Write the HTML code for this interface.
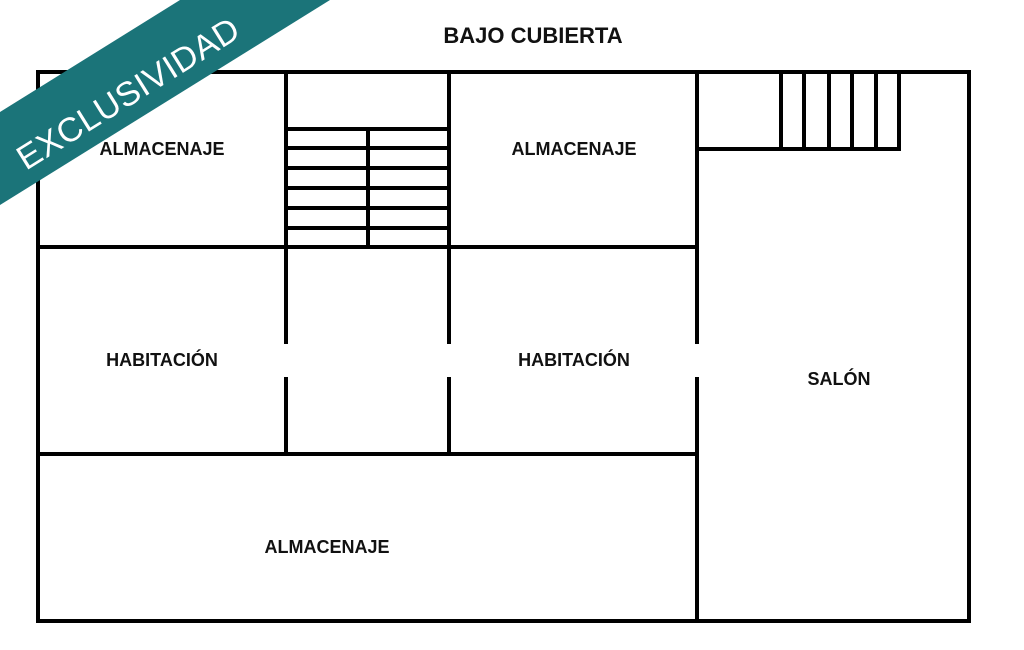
<!DOCTYPE html>
<html><head><meta charset="utf-8"><style>
html,body{margin:0;padding:0;background:#fff;}
svg{display:block}
text{font-family:"Liberation Sans",sans-serif;font-weight:bold;fill:#111;}
</style></head><body>
<svg width="1024" height="650" viewBox="0 0 1024 650">
<g stroke="#000" stroke-width="4" fill="none" stroke-linecap="square">
<rect x="38" y="72" width="931" height="549"/>
<line x1="286" y1="72" x2="286" y2="342"/><line x1="286" y1="379" x2="286" y2="454"/>
<line x1="449" y1="72" x2="449" y2="342"/><line x1="449" y1="379" x2="449" y2="454"/>
<line x1="697" y1="72" x2="697" y2="342"/><line x1="697" y1="379" x2="697" y2="621"/>
<line x1="38" y1="247" x2="697" y2="247"/>
<line x1="38" y1="454" x2="697" y2="454"/>
<line x1="286" y1="129" x2="449" y2="129"/>
<line x1="286" y1="148" x2="449" y2="148"/>
<line x1="286" y1="168" x2="449" y2="168"/>
<line x1="286" y1="188" x2="449" y2="188"/>
<line x1="286" y1="208" x2="449" y2="208"/>
<line x1="286" y1="228" x2="449" y2="228"/>
<line x1="368" y1="129" x2="368" y2="247"/>
<line x1="697" y1="149" x2="899" y2="149"/>
<line x1="781" y1="72" x2="781" y2="149"/>
<line x1="804" y1="72" x2="804" y2="149"/>
<line x1="829" y1="72" x2="829" y2="149"/>
<line x1="852" y1="72" x2="852" y2="149"/>
<line x1="876" y1="72" x2="876" y2="149"/>
<line x1="899" y1="72" x2="899" y2="149"/>
</g>
<text x="533" y="43" font-size="22" text-anchor="middle">BAJO CUBIERTA</text>
<g font-size="18" text-anchor="middle">
<text x="162" y="155">ALMACENAJE</text>
<text x="574" y="155">ALMACENAJE</text>
<text x="327" y="553">ALMACENAJE</text>
<text x="162" y="366">HABITACIÓN</text>
<text x="574" y="366">HABITACIÓN</text>
<text x="839" y="385">SALÓN</text>
</g>
<polygon points="0,112 180,0 330,0 0,205" fill="#1b7479"/>
<text x="0" y="12" font-size="34" text-anchor="middle" style="fill:#fff;font-weight:normal;letter-spacing:0.5px" transform="translate(128,93) rotate(-32)">EXCLUSIVIDAD</text>
</svg>
</body></html>
